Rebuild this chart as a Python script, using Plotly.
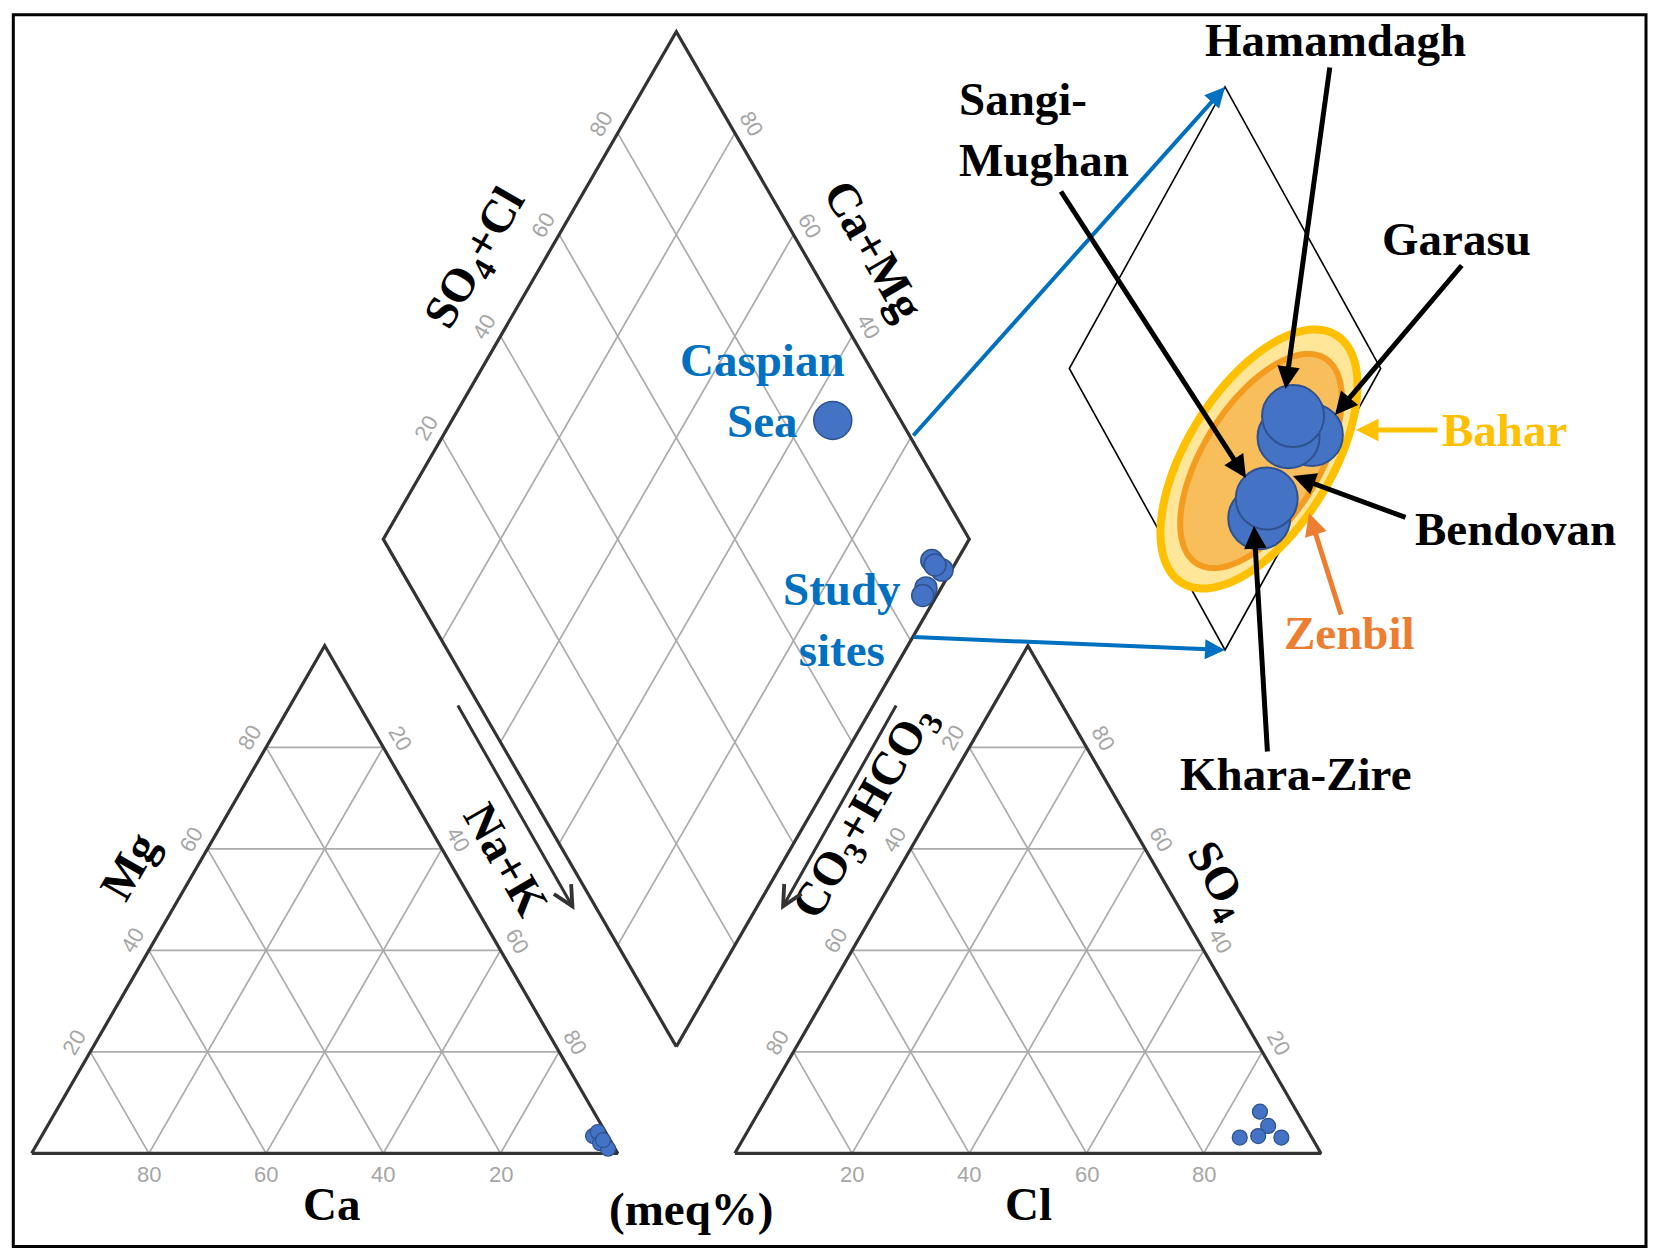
import numpy as np
import plotly.graph_objects as go

# page body has an 8px margin: draw on a figure shifted by that amount
PAGE_M = 8
W, H = 1659 - 2 * PAGE_M, 1259 - 2 * PAGE_M
R3 = np.sqrt(3) / 2

# ---------------- data (meq %) ----------------
sites = ["Hamamdagh", "Garasu", "Bendovan", "Sangi-Mughan", "Khara-Zire"]
# cation triangle
cat_ca = [2.5, 1.3, 2.0, 1.2, 1.2]
cat_mg = [3.4, 4.2, 2.0, 0.9, 2.6]
cat_nak = [94.1, 94.5, 96.0, 97.9, 96.2]
# anion triangle
an_hco3 = [6.3, 6.3, 9.0, 12.3, 5.2]
an_so4 = [8.2, 5.4, 3.4, 3.1, 3.1]
an_cl = [85.5, 88.3, 87.6, 84.6, 91.7]
# diamond (SO4+Cl, Ca+Mg) as read from the diamond
dia_so4cl = [91.5, 92.3, 87.8, 86.5, 91.6]
dia_camg = [4.3, 1.6, 2.6, 2.4, 3.3]
# Caspian Sea
sea_so4cl = [88.4]
sea_camg = [35.0]
# enlarged schematic inset (SO4+Cl, Ca+Mg), drawing order back -> front
inset_sites = ["Garasu", "Bendovan", "Hamamdagh", "Khara-Zire", "Sangi-Mughan"]
inset_so4cl = [66.1, 58.2, 63.4, 34.4, 40.3]
inset_camg = [10.3, 17.4, 19.7, 12.4, 13.5]
ticks = [20, 40, 60, 80]

# ---------------- layout constants (page pixels) ----------------
X0_PX, Y0_PX, S = 31.7, 1153.3, 5.86   # pixel of Ca corner, px per percent
GAP = 20.0
DIA_DY = 18.2
INS_BX, INS_BY, INS_SX, INS_SY = 1225.0, 650.0, 3.114, 3.2506

BLUE = "#4472C4"
BLUE_LINE = "#2F528F"
TXT_BLUE = "#0070C0"
GRID = "#ababab"
EDGE = "#333333"
TICKC = "#a6a6a6"


def cation_xy(ca, mg, nak):
    ca, mg, nak = map(np.asarray, (ca, mg, nak))
    t = ca + mg + nak
    return (nak + mg / 2) / t * 100, mg / t * 100 * R3


def anion_xy(hco3, so4, cl):
    hco3, so4, cl = map(np.asarray, (hco3, so4, cl))
    t = hco3 + so4 + cl
    return 100 + GAP + (cl + so4 / 2) / t * 100, so4 / t * 100 * R3


def diamond_xy(a, c):
    a, c = np.asarray(a, float), np.asarray(c, float)
    return 100 + GAP / 2 + 0.5 * (a - c), DIA_DY + R3 * (a + c)


def inset_xy(a, c):
    a, c = np.asarray(a, float), np.asarray(c, float)
    return 0.5 * (a - c), R3 * (a + c)


def P(px, py):
    return (px - X0_PX) / S, (Y0_PX - py) / S


fig = go.Figure()

# ---------- grids ----------
gx, gy = [], []


def seg(p, q):
    gx.extend([float(p[0]), float(q[0]), None])
    gy.extend([float(p[1]), float(q[1]), None])


for v in ticks:
    seg(cation_xy(100 - v, v, 0), cation_xy(0, v, 100 - v))
    seg(cation_xy(100 - v, 0, v), cation_xy(0, 100 - v, v))
    seg(cation_xy(v, 0, 100 - v), cation_xy(v, 100 - v, 0))
    seg(anion_xy(100 - v, v, 0), anion_xy(0, v, 100 - v))
    seg(anion_xy(100 - v, 0, v), anion_xy(0, 100 - v, v))
    seg(anion_xy(v, 0, 100 - v), anion_xy(v, 100 - v, 0))
    seg(diamond_xy(v, 0), diamond_xy(v, 100))
    seg(diamond_xy(0, v), diamond_xy(100, v))

fig.add_trace(go.Scatter(x=gx, y=gy, mode="lines", line=dict(color=GRID, width=1.7),
                         hoverinfo="skip", showlegend=False))

# ---------- outlines ----------
ox, oy = [], []


def poly(pts):
    for p in pts:
        ox.append(float(p[0]))
        oy.append(float(p[1]))
    ox.append(None)
    oy.append(None)


poly([cation_xy(100, 0, 0), cation_xy(0, 0, 100), cation_xy(0, 100, 0), cation_xy(100, 0, 0)])
poly([anion_xy(100, 0, 0), anion_xy(0, 0, 100), anion_xy(0, 100, 0), anion_xy(100, 0, 0)])
poly([diamond_xy(0, 0), diamond_xy(100, 0), diamond_xy(100, 100), diamond_xy(0, 100), diamond_xy(0, 0)])
fig.add_trace(go.Scatter(x=ox, y=oy, mode="lines", line=dict(color=EDGE, width=3.2),
                         hoverinfo="skip", showlegend=False))

# ---------- data points ----------
mk_small = dict(color=BLUE, size=15, line=dict(color=BLUE_LINE, width=1.2))
cx, cy = cation_xy(cat_ca, cat_mg, cat_nak)
fig.add_trace(go.Scatter(x=cx, y=cy, mode="markers", marker=mk_small, text=sites, showlegend=False))
ax_, ay_ = anion_xy(an_hco3, an_so4, an_cl)
fig.add_trace(go.Scatter(x=ax_, y=ay_, mode="markers", marker=mk_small, text=sites, showlegend=False))
dx, dy = diamond_xy(dia_so4cl, dia_camg)
fig.add_trace(go.Scatter(x=dx, y=dy, mode="markers", text=sites, showlegend=False,
                         marker=dict(color=BLUE, size=22, line=dict(color=BLUE_LINE, width=1.5))))
sx, sy = diamond_xy(sea_so4cl, sea_camg)
fig.add_trace(go.Scatter(x=sx, y=sy, mode="markers", text=["Caspian Sea"], showlegend=False,
                         marker=dict(color=BLUE, size=38, line=dict(color=BLUE_LINE, width=1.5))))

# inset points on second axes
ix, iy = inset_xy(inset_so4cl, inset_camg)
fig.add_trace(go.Scatter(x=ix, y=iy, mode="markers", text=inset_sites, showlegend=False,
                         xaxis="x2", yaxis="y2",
                         marker=dict(color=BLUE, size=62, line=dict(color=BLUE_LINE, width=2))))

shapes = []
# outer frame
shapes.append(dict(type="rect", xref="paper", yref="paper",
                   x0=(13.3 - PAGE_M) / W, x1=(1646 - PAGE_M) / W,
                   y0=1 - (1246.5 - PAGE_M) / H, y1=1 - (14.7 - PAGE_M) / H,
                   line=dict(color="black", width=3), layer="above"))

# inset diamond outline
dpts = [inset_xy(0, 0), inset_xy(100, 0), inset_xy(100, 100), inset_xy(0, 100)]
path = "M " + " L ".join(f"{float(p[0]):.3f},{float(p[1]):.3f}" for p in dpts) + " Z"
shapes.append(dict(type="path", xref="x2", yref="y2", path=path,
                   line=dict(color="black", width=1.6), layer="below"))


def ellipse_path(cxp, cyp, a, b, ang_deg, n=90):
    th = np.deg2rad(ang_deg)
    t = np.linspace(0, 2 * np.pi, n, endpoint=False)
    px = cxp + a * np.cos(th) * np.cos(t) - b * np.sin(th) * np.sin(t)
    py = cyp - (a * np.sin(th) * np.cos(t) + b * np.cos(th) * np.sin(t))
    pts = [P(x, y) for x, y in zip(px, py)]
    return "M " + " L ".join(f"{x:.3f},{y:.3f}" for x, y in pts) + " Z"


shapes.append(dict(type="path", xref="x", yref="y", path=ellipse_path(1259, 459, 146, 72, 58),
                   fillcolor="#FFE699", line=dict(color="#FFC000", width=8), layer="below"))
shapes.append(dict(type="path", xref="x", yref="y", path=ellipse_path(1261, 461, 121, 58, 58),
                   fillcolor="#F8BE5C", line=dict(color="#F39C1F", width=6), layer="below"))

# ---------- annotations ----------
ann = []


def tick(pos, off, text, angle):
    ann.append(dict(x=float(pos[0]) + off[0], y=float(pos[1]) + off[1], text=str(text),
                    showarrow=False, textangle=angle, xref="x", yref="y",
                    font=dict(family="Liberation Sans, Arial", size=22, color=TICKC)))


OFF = 3.2
nl, nr = (-R3 * OFF, 0.5 * OFF), (R3 * OFF, 0.5 * OFF)
for v in ticks:
    tick(cation_xy(v, 0, 100 - v), (0, -3.6), v, 0)
    tick(cation_xy(100 - v, v, 0), nl, v, -60)
    tick(cation_xy(0, 100 - v, v), nr, v, 60)
    tick(anion_xy(100 - v, 0, v), (0, -3.6), v, 0)
    tick(anion_xy(v, 100 - v, 0), nl, v, -60)
    tick(anion_xy(0, v, 100 - v), nr, v, 60)
    tick(diamond_xy(v, 100), nl, v, -60)
    if v > 20:
        tick(diamond_xy(100, v), nr, v, 60)

SERIF = "Liberation Serif, Times New Roman, serif"


def label(px, py, text, size=47, color="black", angle=0, xanchor="center", align="center"):
    x, y = P(px, py)
    ann.append(dict(x=x, y=y, text=text, showarrow=False, textangle=angle, xref="x", yref="y",
                    xanchor=xanchor, yanchor="middle", align=align,
                    font=dict(family=SERIF, size=size, color=color, weight="bold")))


label(331, 1204, "Ca")
label(1028, 1204, "Cl")
label(691, 1209, "(meq%)")
label(129, 866, "Mg", angle=-60)
label(506, 859, "Na+K", angle=60)
label(476, 259, "SO<sub>4</sub>+Cl", angle=-60)
label(874, 250, "Ca+Mg", angle=60)
label(865, 813, "CO<sub>3</sub>+HCO<sub>3</sub>", angle=-60)
label(1217, 880, "SO<sub>4</sub>", angle=60)

label(1335, 40, "Hamamdagh")
label(957, 129, "Sangi-<br>Mughan", xanchor="left", align="left")
label(1456, 239, "Garasu")
label(1504, 430, "Bahar", color="#FFC000")
label(1515, 529, "Bendovan")
label(1349, 633, "Zenbil", color="#ED7D31")
label(1296, 774, "Khara-Zire")
label(762, 390, "Caspian<br>Sea", color=TXT_BLUE)
label(842, 619, "Study<br>sites", color=TXT_BLUE)


def arrow(tail, head, color="black", width=5, size=0.9, head_style=2):
    hx, hy = P(*head)
    tx, ty = P(*tail)
    ann.append(dict(x=hx, y=hy, ax=tx, ay=ty, xref="x", yref="y", axref="x", ayref="y",
                    text="", showarrow=True, arrowhead=head_style, arrowsize=size,
                    arrowwidth=width, arrowcolor=color, standoff=0, startstandoff=0))


arrow((457, 704), (574.5, 910), color="#333333", width=3, size=1.3, head_style=5)
arrow((897, 704), (781, 910), color="#333333", width=3, size=1.3, head_style=5)
arrow((912, 437), (1225, 87), color=TXT_BLUE, width=4, size=1.0)
arrow((912, 637), (1225, 650), color=TXT_BLUE, width=4, size=1.0)
arrow((1330, 66), (1285.5, 389))
arrow((1463, 264), (1335, 415))
arrow((1060, 190), (1246, 478))
arrow((1407, 518), (1293, 476))
arrow((1267.5, 753), (1254, 526))
arrow((1439, 430), (1356, 430), color="#FFC000")
arrow((1341.5, 616), (1309, 513), color="#ED7D31")

# axis ranges: figure pixel (page pixel - PAGE_M) -> data units
px_l, px_r = PAGE_M, PAGE_M + W
py_t, py_b = PAGE_M, PAGE_M + H

fig.update_layout(
    width=W, height=H, autosize=False,
    margin=dict(l=0, r=0, t=0, b=0, pad=0),
    paper_bgcolor="white", plot_bgcolor="white",
    showlegend=False,
    xaxis=dict(range=[(px_l - X0_PX) / S, (px_r - X0_PX) / S], visible=False, fixedrange=True),
    yaxis=dict(range=[(Y0_PX - py_b) / S, (Y0_PX - py_t) / S], visible=False, fixedrange=True),
    xaxis2=dict(range=[(px_l - INS_BX) / INS_SX, (px_r - INS_BX) / INS_SX], overlaying="x",
                visible=False, fixedrange=True),
    yaxis2=dict(range=[(INS_BY - py_b) / INS_SY, (INS_BY - py_t) / INS_SY], overlaying="y",
                visible=False, fixedrange=True),
    shapes=shapes,
    annotations=ann,
)

fig.write_html("out.html")
